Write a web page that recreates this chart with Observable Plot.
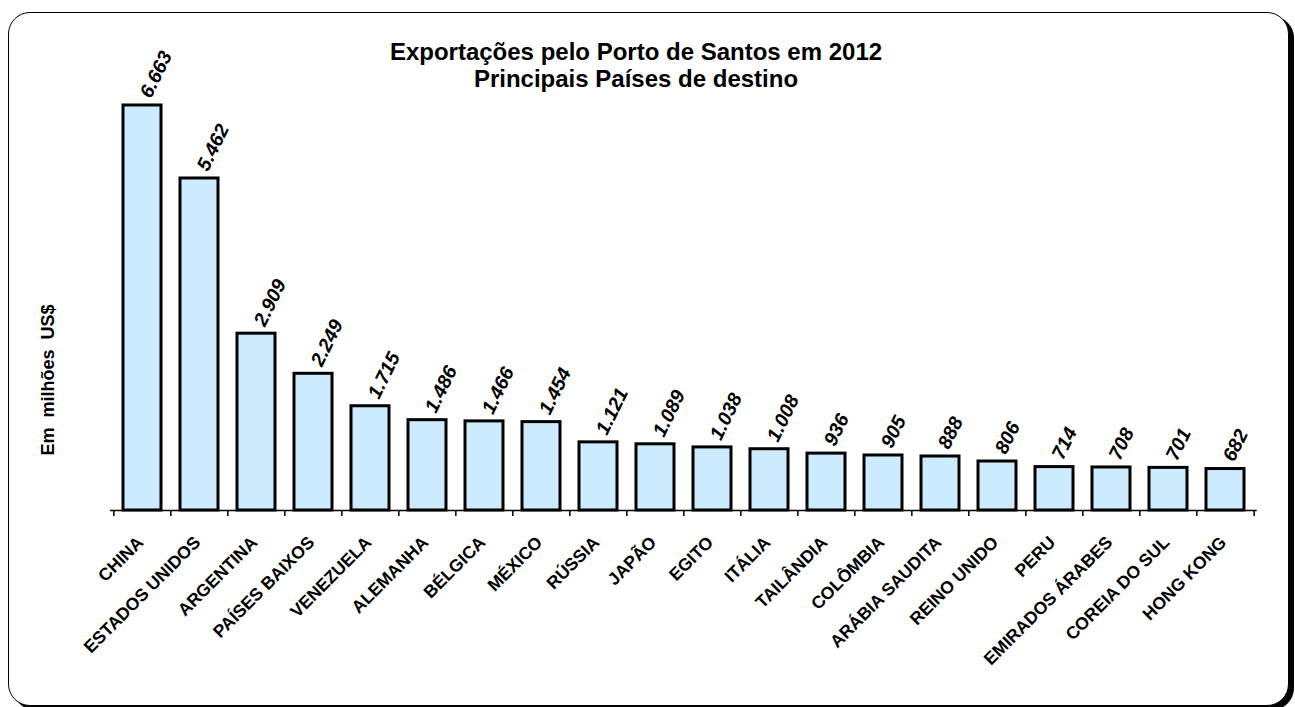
<!DOCTYPE html>
<html><head><meta charset="utf-8">
<script src="https://cdn.jsdelivr.net/npm/d3@7"></script>
<script src="https://cdn.jsdelivr.net/npm/@observablehq/plot@0.6"></script>
<style>
html,body{margin:0;padding:0;background:#fff;overflow:hidden}
#wrap{position:relative;width:1295px;height:707px;font-family:"Liberation Sans",Arial,sans-serif;color:#000}
#frame{position:absolute;left:8px;top:12px;width:1279px;height:692px;border:1.5px solid #000;border-radius:22px;box-shadow:5px 4px 0 #000;background:#fff}
#title{position:absolute;left:0;width:1272px;top:38px;text-align:center;font-weight:bold;font-size:24px;line-height:27px}
#ylab{position:absolute;left:48px;top:380px;transform:translate(-50%,-50%) rotate(-90deg);font-weight:bold;font-size:18px;white-space:pre}
#chart{position:absolute;left:0;top:0}
</style>
</head><body>
<div id="wrap">
  <div id="frame"></div>
  <div id="chart"></div>
  <div id="title">Exportações pelo Porto de Santos em 2012<br>Principais Países de destino</div>
  <div id="ylab">Em  milhões  US$</div>
</div>
<script>
const countries = ["CHINA","ESTADOS UNIDOS","ARGENTINA","PAÍSES BAIXOS","VENEZUELA","ALEMANHA","BÉLGICA","MÉXICO","RÚSSIA","JAPÃO","EGITO","ITÁLIA","TAILÂNDIA","COLÔMBIA","ARÁBIA SAUDITA","REINO UNIDO","PERU","EMIRADOS ÁRABES","COREIA DO SUL","HONG KONG"];
const values = [6663,5462,2909,2249,1715,1486,1466,1454,1121,1089,1038,1008,936,905,888,806,714,708,701,682];
const yDomain = [0, 7000];

const data = countries.map((c, i) => ({country: c, value: values[i]}));
const fmt = d3.formatLocale({decimal: ",", thousands: ".", grouping: [3], currency: ["", ""]}).format(",d");

const W = 1295, H = 707, mL = 110, mR = 38.3, mT = 84.5, mB = 197;
const step = (W - mL - mR) / countries.length;

const chart = Plot.plot({
  width: W, height: H,
  marginLeft: mL, marginRight: mR, marginTop: mT, marginBottom: mB,
  style: {background: "transparent", fontFamily: "'Liberation Sans', Arial, sans-serif", color: "#000"},
  x: {domain: countries, paddingInner: 0.33, paddingOuter: 0.165, axis: null, label: null},
  y: {domain: yDomain, axis: null, label: null},
  marks: [
    Plot.barY(data, {x: "country", y: "value", fill: "#CCEBFF", stroke: "#000", strokeWidth: 3}),
    Plot.ruleY([0], {stroke: "#000", strokeWidth: 1.5}),
    Plot.axisX(countries, {tickSize: 6, tickFormat: () => "", label: null, dx: -step / 2, strokeWidth: 1.5}),
    Plot.axisX([countries[countries.length - 1]], {tickSize: 6, tickFormat: () => "", label: null, dx: step / 2, strokeWidth: 1.5}),
    Plot.text(countries, {x: d => d, frameAnchor: "bottom", rotate: -45, textAnchor: "end", dx: 2, dy: 33, fontSize: 17.5, fontWeight: "bold", fill: "#000"}),
    Plot.text(data, {x: "country", y: "value", text: d => fmt(d.value), rotate: -64, textAnchor: "start", dx: 3, dy: -9, fontSize: 19.5, fontWeight: "bold", fontStyle: "italic", fill: "#000"})
  ]
});
document.getElementById("chart").appendChild(chart);
</script>
</body></html>
